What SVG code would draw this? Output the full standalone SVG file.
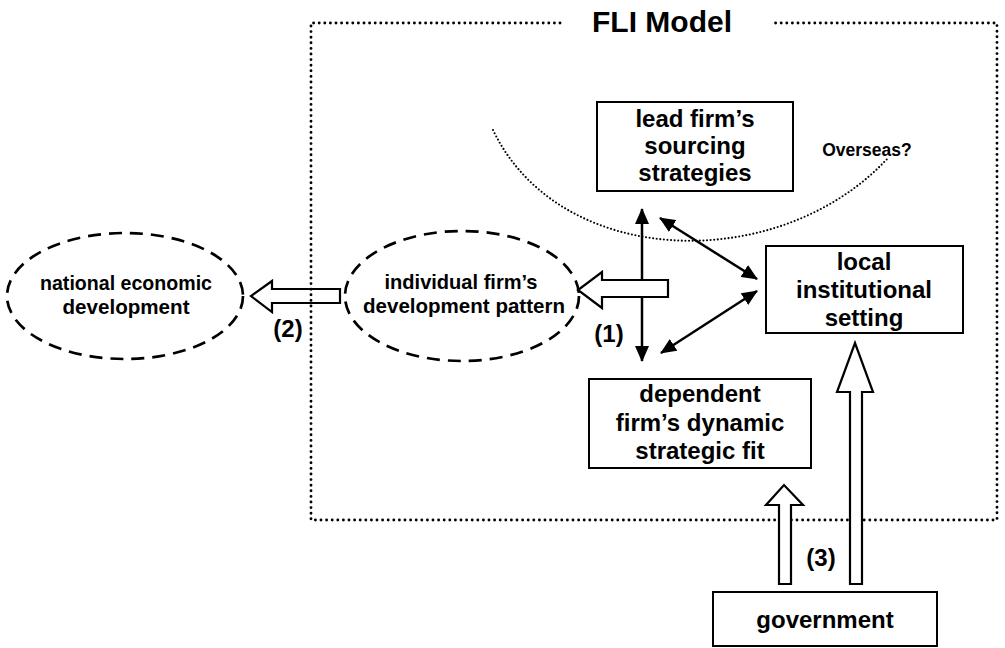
<svg xmlns="http://www.w3.org/2000/svg" width="1005" height="648" viewBox="0 0 1005 648">
  <style>
    .box { fill: #fff; stroke: #000; stroke-width: 2; }
    .ell { fill: none; stroke: #000; stroke-width: 2.7; stroke-dasharray: 13 8; }
    .dot { fill: none; stroke: #000; stroke-width: 2.9; stroke-dasharray: 0 5.6; stroke-linecap: round; }
    .thin-dot { fill: none; stroke: #000; stroke-width: 2.1; stroke-dasharray: 0 3.6; stroke-linecap: round; }
    .lbl { font-family: "Liberation Sans", Arial, sans-serif; font-weight: bold; fill: #000; text-anchor: middle; }
    .narrow { font-family: "Liberation Sans Narrow", "Liberation Sans", Arial, sans-serif; font-weight: bold; fill: #000; text-anchor: middle; font-size: 21px; }
    .line { fill: none; stroke: #000; stroke-width: 2.5; }
    .hollow { fill: #fff; stroke: #000; stroke-width: 2.2; stroke-linejoin: miter; }
  </style>
  <defs>
    <marker id="head" viewBox="0 0 16 14" refX="15" refY="7" markerWidth="16" markerHeight="14" markerUnits="userSpaceOnUse" orient="auto-start-reverse">
      <path d="M0,0 L16,7 L0,14 Z" fill="#000"/>
    </marker>
  </defs>

  <g id="connectors">
    <!-- (2) open arrow, frame line shows through it -->
    <path class="hollow" style="fill:none" d="M340,289 L272,289 L272,281 L251,296 L272,312 L272,303 L340,303 Z"/>
    <!-- vertical double arrow -->
    <line class="line" x1="642" y1="209" x2="642" y2="361" marker-start="url(#head)" marker-end="url(#head)"/>
    <!-- (1) hollow arrow -->
    <path class="hollow" d="M668,280 L602,280 L602,272 L578,290 L602,308 L602,297 L668,297 Z"/>
    <!-- diagonal double arrows -->
    <line class="line" x1="660" y1="218" x2="757" y2="279" marker-start="url(#head)" marker-end="url(#head)"/>
    <line class="line" x1="661" y1="353" x2="757" y2="291" marker-start="url(#head)" marker-end="url(#head)"/>
    <text class="lbl" x="609" y="342" font-size="24">(1)</text>
    <text class="lbl" x="288" y="337" font-size="24">(2)</text>
    <text class="lbl" x="821" y="566" font-size="24">(3)</text>
  </g>

  <!-- FLI model frame -->
  <g id="frame">
    <path class="dot" d="M560,23 L311,23 L311,520 L997,520 L997,23 L772,23"/>
    <text class="lbl" x="662" y="32" font-size="30">FLI Model</text>
  </g>

  <g id="gov-arrows">
    <path class="hollow" d="M779,584 L779,505 L766,505 L784,485 L803,505 L791,505 L791,584 Z"/>
    <path class="hollow" d="M850,584 L850,392 L837,392 L855,343 L873,392 L862,392 L862,584 Z"/>
  </g>

  <!-- overseas boundary -->
  <g id="overseas">
    <path class="thin-dot" d="M493,130 C560,270 780,275 888,158"/>
    <text class="lbl" x="867" y="156" font-size="17.5">Overseas?</text>
  </g>

  <g id="national">
    <ellipse class="ell" cx="125" cy="296" rx="118" ry="63"/>
    <text class="narrow" x="126" y="290" textLength="172" lengthAdjust="spacingAndGlyphs">national economic</text>
    <text class="narrow" x="126" y="314" textLength="127" lengthAdjust="spacingAndGlyphs">development</text>
  </g>

  <g id="individual">
    <ellipse class="ell" cx="462" cy="296" rx="117" ry="65"/>
    <text class="narrow" x="461" y="289" textLength="153" lengthAdjust="spacingAndGlyphs">individual firm’s</text>
    <text class="narrow" x="464" y="313" textLength="202" lengthAdjust="spacingAndGlyphs">development pattern</text>
  </g>

  <g id="lead">
    <rect class="box" x="597" y="102" width="196" height="89"/>
    <text class="lbl" x="695" y="127" font-size="24">lead firm’s</text>
    <text class="lbl" x="695" y="154" font-size="24">sourcing</text>
    <text class="lbl" x="695" y="181" font-size="24">strategies</text>
  </g>

  <g id="local">
    <rect class="box" x="766" y="246" width="197" height="87"/>
    <text class="lbl" x="864" y="270" font-size="24">local</text>
    <text class="lbl" x="864" y="298" font-size="24">institutional</text>
    <text class="lbl" x="864" y="326" font-size="24">setting</text>
  </g>

  <g id="dependent">
    <rect class="box" x="589" y="379" width="222" height="89"/>
    <text class="lbl" x="700" y="402" font-size="24">dependent</text>
    <text class="lbl" x="700" y="431" font-size="24">firm’s dynamic</text>
    <text class="lbl" x="700" y="459" font-size="24">strategic fit</text>
  </g>

  <g id="government">
    <rect class="box" x="713" y="592" width="224" height="54"/>
    <text class="lbl" x="825" y="628" font-size="24">government</text>
  </g>
</svg>
